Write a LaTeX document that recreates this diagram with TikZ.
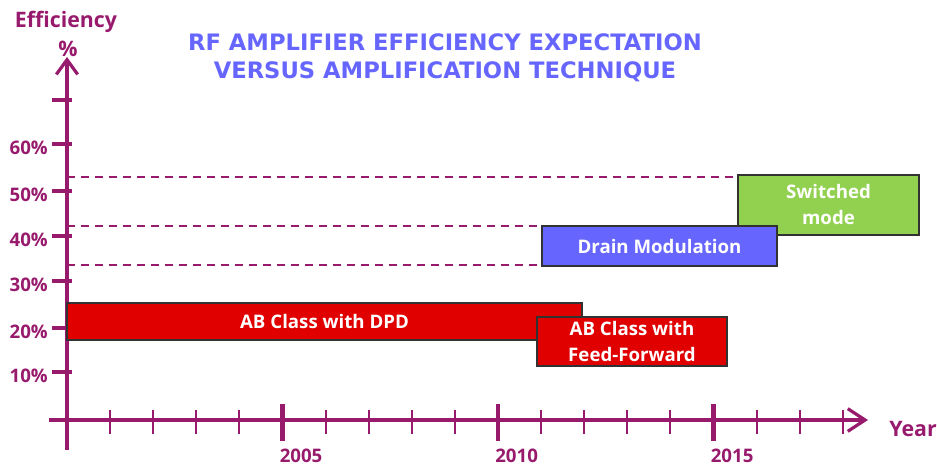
\documentclass[tikz,border=0pt]{standalone}
\usepackage{fontspec}
\setmainfont{Open Sans}
\newfontfamily\ttlfont{DejaVu Sans}
\usetikzlibrary{arrows.meta}
\definecolor{axc}{RGB}{152,26,108}
\definecolor{ttl}{RGB}{102,102,255}
\definecolor{abred}{RGB}{224,0,0}
\definecolor{drain}{RGB}{102,102,255}
\definecolor{sw}{RGB}{146,208,80}
\definecolor{bord}{RGB}{50,50,50}
\begin{document}
\begin{tikzpicture}[x=0.75pt,y=-0.75pt,
  axis/.style={draw=axc,line width=2.4pt},
  minortick/.style={draw=axc,line width=1.6pt},
  majortick/.style={draw=axc,line width=3.6pt},
  ytick/.style={draw=axc,line width=3pt},
  guide/.style={draw=axc,line width=1.3pt,dash pattern=on 6pt off 4.5pt},
  lbl/.style={text=axc,font=\fontsize{14}{16}\selectfont\bfseries,inner sep=0pt},
  biglbl/.style={text=axc,font=\fontsize{16}{18}\selectfont\bfseries,inner sep=0pt},
  ttlst/.style={text=ttl,font=\ttlfont\fontsize{17}{21}\selectfont\bfseries,inner sep=0pt,align=center},
  bar/.style={draw=bord,line width=1.5pt,inner sep=0pt,text=white,align=center,
    font=\fontsize{14}{19.5}\selectfont\bfseries},
]
\useasboundingbox (0,0) rectangle (937,467);
\clip (0,0) rectangle (937,467);

% title
\node[ttlst] (title) at (445,58) {RF AMPLIFIER EFFICIENCY EXPECTATION\\VERSUS AMPLIFICATION TECHNIQUE};

% axis labels
\node[biglbl] (eff) at (66,22) {Efficiency};
\node[biglbl] (pct) at (68,49) {\%};
\node[biglbl,anchor=west] (year) at (889,429) {Year};

% axes
\coordinate (o) at (67,420);
\coordinate (ytop) at (67,57);
\coordinate (ybot) at (67,450);
\coordinate (xl) at (49,420);
\coordinate (xr) at (868,420);

% guide lines
\coordinate (g1a) at (67,177); \coordinate (g1b) at (737,177);
\coordinate (g2a) at (67,226); \coordinate (g2b) at (542,226);
\coordinate (g3a) at (67,265); \coordinate (g3b) at (542,265);
\draw[guide] (g1a) -- (g1b);
\draw[guide] (g2a) -- (g2b);
\draw[guide] (g3a) -- (g3b);

% y ticks
\foreach \yy/\t in {100/,144/60\%,190.5/50\%,236/40\%,281/30\%,327.5/20\%,372/10\%}{
  \draw[ytick] (52,\yy) -- (72,\yy);
  \node[lbl,anchor=east] at (48,\yy+4) {\t};
}

% x ticks
\foreach \i in {1,2,3,4,6,7,8,9,11,12,13,14,16,17,18}{
  \draw[minortick] (67+\i*43.1,410) -- (67+\i*43.1,434);
}
\foreach \i/\yr in {5/2005,10/2010,15/2015}{
  \draw[majortick] (67+\i*43.1,404) -- (67+\i*43.1,441);
  \node[lbl,anchor=west] at (64+\i*43.1,456) {\yr};
}

\draw[axis,-{Straight Barb[length=11pt,width=16pt,line width=2.4pt]}] (ybot) -- (ytop);
\draw[axis,-{Straight Barb[length=13pt,width=17pt,line width=2.4pt]}] (xl) -- (xr);

% bars
\node[bar,fill=abred,minimum width=515*0.75pt,minimum height=37*0.75pt] (dpd) at (324.5,321.5) {AB Class with DPD};
\node[bar,fill=abred,minimum width=190*0.75pt,minimum height=49*0.75pt] (ff) at (632,341.5) {AB Class with\\Feed-Forward};
\node[bar,fill=sw,minimum width=181*0.75pt,minimum height=60*0.75pt] (swm) at (828.5,204.5) {Switched\\mode};
\node[bar,fill=drain,minimum width=235*0.75pt,minimum height=40*0.75pt] (dm) at (659.5,246) {Drain Modulation};
\end{tikzpicture}
\end{document}
